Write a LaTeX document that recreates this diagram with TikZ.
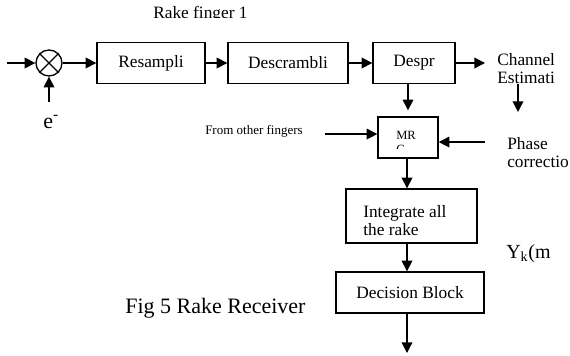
\documentclass[tikz,border=0pt]{standalone}
\usepackage{fontspec}
\setmainfont{Liberation Serif}
\usetikzlibrary{arrows.meta}

\begin{document}
\begin{tikzpicture}[
    x=0.75pt,y=-0.75pt,
    block/.style={draw,line width=1pt,inner sep=0pt,font=\fontsize{13}{13.5}\selectfont},
    txt/.style={inner sep=0pt,align=left,font=\fontsize{13}{13.5}\selectfont},
    arr/.style={line width=1pt,-{Triangle[length=8pt,width=8pt]}}
    ]
    \useasboundingbox (0,0) rectangle (570,356);
    \begin{scope}
      \clip (0,0) rectangle (570,18);
      \node[txt,anchor=base west](title) at (153,19){Rake finger 1};
    \end{scope}
    \coordinate (input) at (7,63);
    \node[circle,draw,line width=1pt,minimum size=19.5pt,inner sep=0pt](mix) at (49,63){};
    \draw[line width=1pt] (mix.north west) -- (mix.south east) (mix.north east) -- (mix.south west);
    \coordinate (eup) at (49,102);
    \node[anchor=base west,inner sep=0pt,font=\fontsize{16.5}{18}\selectfont](eminus) at (43,128){e\textsuperscript{-}};
    \node[block,minimum width=81pt,minimum height=30.75pt](resample) at (151,63){Resampli};
    \node[block,minimum width=90pt,minimum height=30.75pt](descramble) at (288,63){Descrambli};
    \node[block,minimum width=61.5pt,minimum height=30.75pt](despr) at (414,63){Despr};
    \node[txt,anchor=west](chan) at (497,69){Channel\\Estimati};
    \coordinate (chanout) at (518,112);
    \node[block,minimum width=45pt,minimum height=30.75pt](mrc) at (408,137.5){};
    \begin{scope}
      \clip (380,119) rectangle (436,148);
      \node[txt,anchor=west,font=\fontsize{9.4}{10.5}\selectfont](mrtxt) at (396,142){MR\\C};
    \end{scope}
    \node[anchor=base west,inner sep=0pt,font=\fontsize{9.75}{11}\selectfont](others) at (205,135){From other fingers};
    \node[txt,anchor=west](phase) at (507,152.5){Phase\\correctio};
    \coordinate (mrcleft) at ([yshift=2.6pt]mrc.west);
    \coordinate (mrcright) at ([yshift=-3.4pt]mrc.east);
    \node[block,minimum width=98.25pt,minimum height=40.5pt](integ) at (411.5,216){};
    \node[txt,anchor=west](integtxt) at (363,221){Integrate all\\the rake};
    \node[anchor=base west,inner sep=0pt,font=\fontsize{15}{18}\selectfont](yk) at (506,258){Y\textsubscript{k}(m};
    \node[block,minimum width=111pt,minimum height=30.75pt](decide) at (410,292.5){Decision Block};
    \coordinate (out) at (407,353);
    \node[anchor=base west,inner sep=0pt,font=\fontsize{16.5}{18}\selectfont](caption) at (125,313){Fig 5 Rake Receiver};
    \draw[arr] (input) -- (mix.west);
    \draw[arr] (eup) -- (mix.south);
    \draw[arr] (mix.east) -- (resample.west);
    \draw[arr] (resample.east) -- (descramble.west);
    \draw[arr] (descramble.east) -- (despr.west);
    \draw[arr,shorten >=9pt] (despr.east) -- (despr.east -| chan.west);
    \draw[arr] (chanout |- chan.south) -- (chanout);
    \draw[arr,shorten >=4.5pt] (despr.south -| mrc.north) -- (mrc.north);
    \draw[arr,shorten <=16.5pt] (others.east |- mrcleft) -- (mrcleft);
    \draw[arr,shorten <=16.5pt] (phase.west |- mrcright) -- (mrcright);
    \draw[arr] (out |- mrc.south) -- (out |- integ.north);
    \draw[arr] (out |- integ.south) -- (out |- decide.north);
    \draw[arr] (out |- decide.south) -- (out);
  \end{tikzpicture}
\end{document}
